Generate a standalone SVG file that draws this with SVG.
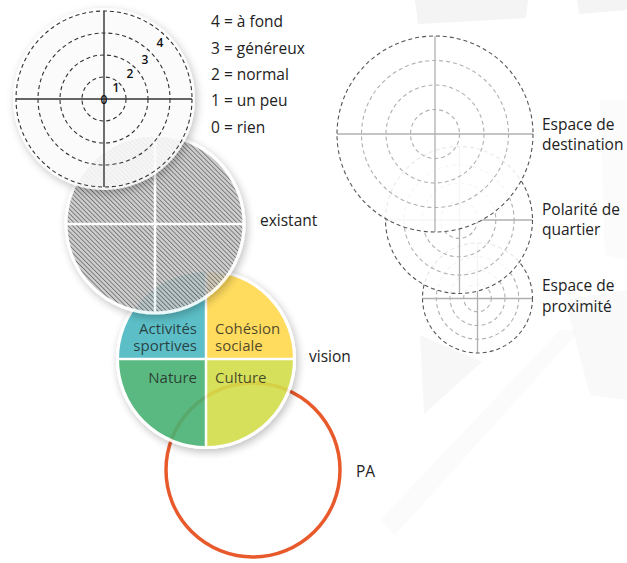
<svg xmlns="http://www.w3.org/2000/svg" width="627" height="563" viewBox="0 0 627 563">
<defs>
<style>
text{font-family:"Open Sans","Noto Sans","DejaVu Sans",sans-serif;fill:#222;}
.lbl{font-size:15.5px;}
.num{font-size:12px;fill:#111;font-weight:600;}
.q{font-size:15px;fill:#1a1a1a;fill-opacity:0.78;}
.dk{fill:none;stroke:#333;stroke-width:1.1;stroke-dasharray:4 3;}
.ax{stroke:#333;stroke-width:1.4;}
.rd{fill:none;stroke:#555;stroke-width:1.1;stroke-dasharray:4 3;}
.rl{fill:none;stroke:#b0b0b0;stroke-width:1.1;stroke-dasharray:4 3;}
.rax{stroke:#b0b0b0;stroke-width:1.3;}
.wl{stroke:#fff;stroke-width:2.5;}
.bg{fill:#f4f4f4;}
</style>
<pattern id="hatch" width="3.2" height="3.2" patternUnits="userSpaceOnUse" patternTransform="rotate(-45)">
<rect width="3.2" height="3.2" fill="#c8c8c8"/>
<line x1="0" y1="0" x2="0" y2="3.2" stroke="#5e5e5e" stroke-width="1.7"/>
</pattern>
<filter id="sh" x="-20%" y="-20%" width="140%" height="140%">
<feDropShadow dx="2" dy="3" stdDeviation="4" flood-color="#000" flood-opacity="0.28"/>
</filter>
</defs>
<rect width="627" height="563" fill="#fff"/>
<g id="background">
<polygon class="bg" points="415,0 528,0 526,18 418,24"/>
<polygon class="bg" points="577,0 627,0 627,10 579,14"/>
<polygon class="bg" points="420,335 482,362 424,414" opacity="0.7"/>
<polygon class="bg" points="380,520 560,330 580,330 395,535" opacity="0.35"/>
<polygon class="bg" points="565,300 627,290 627,400 590,395" opacity="0.5"/>
<polygon class="bg" points="600,100 627,100 627,260 605,255" opacity="0.4"/>
</g>
<g id="connectors"/>
<g id="pa">
<circle cx="253" cy="470" r="87" fill="none" stroke="#E8592B" stroke-width="3.5"/>
<text class="lbl" x="356" y="477">PA</text>
</g>
<g id="vision">
<g opacity="0.9" filter="url(#sh)">
<circle cx="206" cy="359" r="90" fill="#fff"/>
<path d="M206,359 L118,359 A88,88 0 0 1 206,271 Z" fill="#4BB8C0"/>
<path d="M206,359 L206,271 A88,88 0 0 1 294,359 Z" fill="#FFD84D"/>
<path d="M206,359 L118,359 A88,88 0 0 0 206,447 Z" fill="#48B273"/>
<path d="M206,359 L294,359 A88,88 0 0 1 206,447 Z" fill="#D3DD4A"/>
<line class="wl" x1="206" y1="270" x2="206" y2="448"/>
<line class="wl" x1="117" y1="359" x2="295" y2="359"/>
<circle cx="206" cy="359" r="88.5" fill="none" stroke="#fff" stroke-width="3"/>
</g>
<text class="q" text-anchor="end"><tspan x="197" y="334">Activités</tspan><tspan x="197" y="351">sportives</tspan></text>
<text class="q"><tspan x="215" y="334">Cohésion</tspan><tspan x="215" y="351">sociale</tspan></text>
<text class="q" x="197" y="383" text-anchor="end">Nature</text>
<text class="q" x="215" y="383">Culture</text>
<text class="lbl" x="309" y="362">vision</text>
</g>
<g id="existant">
<g opacity="0.88" filter="url(#sh)">
<circle cx="155" cy="224" r="89" fill="url(#hatch)"/>
<line class="wl" x1="155" y1="135" x2="155" y2="313"/>
<line class="wl" x1="66" y1="224" x2="244" y2="224"/>
<circle cx="155" cy="224" r="89" fill="none" stroke="#fff" stroke-width="3"/>
</g>
<text class="lbl" x="260" y="225.5">existant</text>
</g>
<g id="echelle">
<circle cx="104" cy="99" r="91" fill="#fff" fill-opacity="0.85" filter="url(#sh)"/>
<circle class="dk" cx="104" cy="99" r="88"/>
<circle class="dk" cx="104" cy="99" r="66"/>
<circle class="dk" cx="104" cy="99" r="44"/>
<circle class="dk" cx="104" cy="99" r="22"/>
<line class="ax" x1="16" y1="99" x2="192" y2="99"/>
<line class="ax" x1="104" y1="11" x2="104" y2="187"/>
<text class="num" x="104" y="104" text-anchor="middle">0</text>
<text class="num" x="116" y="92" text-anchor="middle">1</text>
<text class="num" x="130" y="78" text-anchor="middle">2</text>
<text class="num" x="145" y="64" text-anchor="middle">3</text>
<text class="num" x="160" y="47" text-anchor="middle">4</text>
</g>
<g id="legende">
<text class="lbl" x="211" y="27">4 = à fond</text>
<text class="lbl" x="211" y="53.5">3 = généreux</text>
<text class="lbl" x="211" y="80">2 = normal</text>
<text class="lbl" x="211" y="106">1 = un peu</text>
<text class="lbl" x="211" y="132.5">0 = rien</text>
</g>
<g id="proximite">
<circle cx="477.5" cy="298" r="55" fill="#fff" fill-opacity="0.85"/>
<circle class="rl" cx="477.5" cy="298" r="41.2"/>
<circle class="rl" cx="477.5" cy="298" r="27.5"/>
<circle class="rl" cx="477.5" cy="298" r="13.8"/>
<line class="rax" x1="422.5" y1="298.5" x2="532.5" y2="298.5"/>
<line class="rax" x1="477.5" y1="243" x2="477.5" y2="353"/>
<circle class="rd" cx="477.5" cy="298" r="55"/>
<text class="lbl" x="542" y="291">Espace de</text>
<text class="lbl" x="542" y="312">proximité</text>
</g>
<g id="quartier">
<circle cx="459" cy="220" r="73.5" fill="#fff" fill-opacity="0.85"/>
<circle class="rl" cx="459" cy="220" r="55.1"/>
<circle class="rl" cx="459" cy="220" r="36.8"/>
<circle class="rl" cx="459" cy="220" r="18.4"/>
<line class="rax" x1="385.5" y1="220" x2="532.5" y2="220"/>
<line class="rax" x1="459.5" y1="146.5" x2="459.5" y2="293.5"/>
<circle class="rd" cx="459" cy="220" r="73.5"/>
<text class="lbl" x="542" y="215">Polarité de</text>
<text class="lbl" x="542" y="235">quartier</text>
</g>
<g id="destination">
<circle cx="435" cy="134" r="98" fill="#fff" fill-opacity="0.87"/>
<circle class="rl" cx="435" cy="134" r="73.5"/>
<circle class="rl" cx="435" cy="134" r="49"/>
<circle class="rl" cx="435" cy="134" r="24.5"/>
<line class="rax" x1="337" y1="134" x2="533" y2="134"/>
<line class="rax" x1="435" y1="36" x2="435" y2="232"/>
<circle class="rd" cx="435" cy="134" r="98"/>
<text class="lbl" x="542" y="130">Espace de</text>
<text class="lbl" x="542" y="150">destination</text>
</g>
</svg>
